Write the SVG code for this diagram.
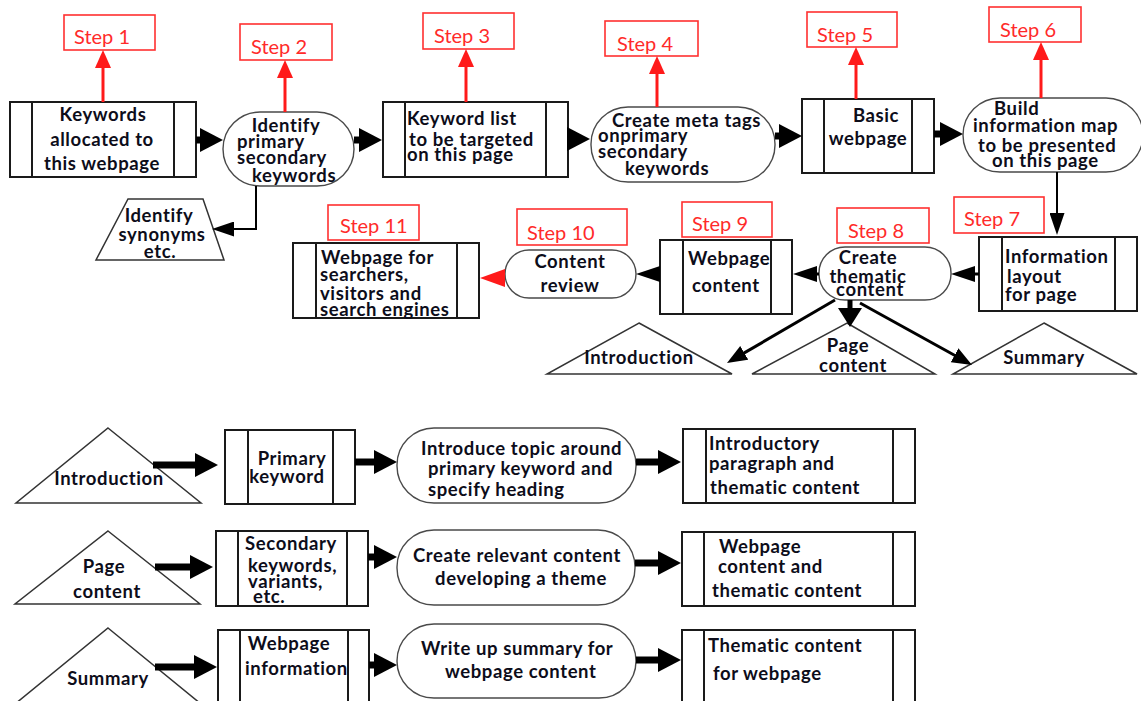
<svg xmlns="http://www.w3.org/2000/svg" width="1141" height="701" viewBox="0 0 1141 701">
<style>
.box{fill:#fff;stroke:#1a1a1a;stroke-width:2}
.dv{stroke:#1a1a1a;stroke-width:2}
.term{fill:#fff;stroke:#4a4a4a;stroke-width:1.4}
.tri{fill:#fff;stroke:#333;stroke-width:1.5}
.sb{fill:#fff;stroke:#ff3030;stroke-width:1.6}
.st{font-family:Lato,"Liberation Sans",sans-serif;font-size:20px;fill:#ff2a2a}
.t{font-family:Lato,"Liberation Sans",sans-serif;font-weight:bold;font-size:18.5px;letter-spacing:0.6px;fill:#0d0d1a}
.c{text-anchor:middle}
.thick{stroke:#000;stroke-width:7;fill:none;marker-end:url(#ahThick)}
.red{stroke:#ff1a1a;stroke-width:3;fill:none;marker-end:url(#ahRed)}
.med{stroke:#000;stroke-width:3;fill:none;marker-end:url(#ahMed)}
.thin{stroke:#000;stroke-width:2;fill:none;marker-end:url(#ahThin)}
.diag{stroke:#000;stroke-width:3;fill:none;marker-end:url(#ahDiag)}
</style>
<defs>
<marker id="ahThick" viewBox="0 0 23 24" markerWidth="23" markerHeight="24" refX="1" refY="12" orient="auto" markerUnits="userSpaceOnUse"><path d="M0,0 L23,12 L0,24 z" fill="#000"/></marker>
<marker id="ahRed" viewBox="0 0 18 16" markerWidth="18" markerHeight="16" refX="1" refY="8" orient="auto" markerUnits="userSpaceOnUse"><path d="M0,0 L18,8 L0,16 z" fill="#ff1a1a"/></marker>
<marker id="ahRedBig" viewBox="0 0 25 18" markerWidth="25" markerHeight="18" refX="1" refY="9" orient="auto" markerUnits="userSpaceOnUse"><path d="M0,0 L25,9 L0,18 z" fill="#ff1a1a"/></marker>
<marker id="ahMed" viewBox="0 0 24 16" markerWidth="24" markerHeight="16" refX="1" refY="8" orient="auto" markerUnits="userSpaceOnUse"><path d="M0,0 L24,8 L0,16 z" fill="#000"/></marker>
<marker id="ahThin" viewBox="0 0 22 15" markerWidth="22" markerHeight="15" refX="1" refY="7.5" orient="auto" markerUnits="userSpaceOnUse"><path d="M0,0 L22,7.5 L0,15 z" fill="#000"/></marker>
<marker id="ahDiag" viewBox="0 0 20 16" markerWidth="20" markerHeight="16" refX="1" refY="8" orient="auto" markerUnits="userSpaceOnUse"><path d="M0,0 L20,8 L0,16 z" fill="#000"/></marker>
<marker id="ahDown" viewBox="0 0 19 24" markerWidth="19" markerHeight="24" refX="1" refY="12" orient="auto" markerUnits="userSpaceOnUse"><path d="M0,0 L19,12 L0,24 z" fill="#000"/></marker>
</defs>
<rect width="1141" height="701" fill="#fff"/>

<!-- Step labels -->
<g id="step1"><rect class="sb" x="64" y="15" width="91" height="35"/><text class="st" x="74" y="44">Step 1</text></g>
<g id="step2"><rect class="sb" x="240" y="24" width="92" height="36"/><text class="st" x="251" y="54">Step 2</text></g>
<g id="step3"><rect class="sb" x="423" y="13" width="91" height="36"/><text class="st" x="434" y="43">Step 3</text></g>
<g id="step4"><rect class="sb" x="605" y="21" width="93" height="35"/><text class="st" x="617" y="51">Step 4</text></g>
<g id="step5"><rect class="sb" x="807" y="12" width="90" height="35"/><text class="st" x="817" y="42">Step 5</text></g>
<g id="step6"><rect class="sb" x="989" y="7" width="92" height="35"/><text class="st" x="1000" y="37">Step 6</text></g>
<g id="step7"><rect class="sb" x="954" y="197" width="90" height="36"/><text class="st" x="964" y="226">Step 7</text></g>
<g id="step8"><rect class="sb" x="837" y="208" width="92" height="35"/><text class="st" x="848" y="238">Step 8</text></g>
<g id="step9"><rect class="sb" x="682" y="202" width="90" height="35"/><text class="st" x="692" y="231">Step 9</text></g>
<g id="step10"><rect class="sb" x="517" y="209" width="110" height="36"/><text class="st" x="527" y="240">Step 10</text></g>
<g id="step11"><rect class="sb" x="328" y="205" width="91" height="35"/><text class="st" x="340" y="233">Step 11</text></g>

<!-- Top row -->
<g id="n1"><rect class="box" x="10" y="102" width="186" height="75"/><line class="dv" x1="32" y1="102" x2="32" y2="177"/><line class="dv" x1="174" y1="102" x2="174" y2="177"/>
<text class="t c" x="103" y="121">Keywords</text><text class="t c" x="102" y="146">allocated to</text><text class="t c" x="102" y="170">this webpage</text></g>
<g id="n2"><rect class="term" x="223" y="112" width="131" height="74" rx="37"/>
<text class="t c" x="286" y="132">Identify</text><text class="t" x="237" y="148">primary</text><text class="t" x="237" y="164">secondary</text><text class="t" x="252" y="182">keywords</text></g>
<g id="n2b"><polygon class="tri" points="128,199 203,199 224,260 96,260"/>
<text class="t c" x="159" y="222">Identify</text><text class="t c" x="162" y="241">synonyms</text><text class="t c" x="160" y="258">etc.</text></g>
<g id="n3"><rect class="box" x="383" y="102" width="185" height="75"/><line class="dv" x1="405" y1="102" x2="405" y2="177"/><line class="dv" x1="546" y1="102" x2="546" y2="177"/>
<text class="t" x="407" y="125">Keyword list</text><text class="t" x="409" y="146">to be  targeted</text><text class="t" x="407" y="161">on this page</text></g>
<g id="n4"><rect class="term" x="591" y="107" width="184" height="75" rx="37"/>
<text class="t" x="612" y="127">Create meta tags</text><text class="t" x="598" y="142">onprimary</text><text class="t" x="598" y="158">secondary</text><text class="t" x="625" y="175">keywords</text></g>
<g id="n5"><rect class="box" x="802" y="99" width="132" height="74"/><line class="dv" x1="824" y1="99" x2="824" y2="173"/><line class="dv" x1="912" y1="99" x2="912" y2="173"/>
<text class="t c" x="876" y="122">Basic</text><text class="t c" x="868" y="145">webpage</text></g>
<g id="n6"><rect class="term" x="963" y="98" width="180" height="74" rx="37"/>
<text class="t" x="994" y="115">Build</text><text class="t" x="973" y="132">information map</text><text class="t" x="978" y="152">to be  presented</text><text class="t" x="992" y="167">on this  page</text></g>

<!-- Middle row -->
<g id="n7"><rect class="box" x="979" y="237" width="158" height="74"/><line class="dv" x1="1002" y1="237" x2="1002" y2="311"/><line class="dv" x1="1115" y1="237" x2="1115" y2="311"/>
<text class="t" x="1005" y="263">Information</text><text class="t" x="1007" y="283">layout</text><text class="t" x="1005" y="301">for  page</text></g>
<g id="n8"><rect class="term" x="819" y="247" width="132" height="53" rx="26"/>
<text class="t c" x="868" y="264">Create</text><text class="t c" x="868" y="283">thematic</text><text class="t c" x="870" y="296">content</text></g>
<g id="n9"><rect class="box" x="660" y="240" width="132" height="74"/><line class="dv" x1="683" y1="240" x2="683" y2="314"/><line class="dv" x1="771" y1="240" x2="771" y2="314"/>
<text class="t" x="688" y="265">Webpage</text><text class="t" x="692" y="292">content</text></g>
<g id="n10"><rect class="term" x="505" y="250" width="131" height="48" rx="24"/>
<text class="t c" x="570" y="268">Content</text><text class="t c" x="570" y="292">review</text></g>
<g id="n11"><rect class="box" x="293" y="243" width="186" height="75"/><line class="dv" x1="316" y1="243" x2="316" y2="318"/><line class="dv" x1="457" y1="243" x2="457" y2="318"/>
<text class="t" x="321" y="264">Webpage for</text><text class="t" x="320" y="281">searchers,</text><text class="t" x="320" y="300">visitors and</text><text class="t" x="320" y="316">search engines</text></g>
<g id="tIntro"><polygon class="tri" points="639,323 732,374 547,374"/><text class="t c" x="639" y="364">Introduction</text></g>
<g id="tPage"><polygon class="tri" points="847,323 935,374 752,374"/><text class="t c" x="848" y="352">Page</text><text class="t c" x="853" y="372">content</text></g>
<g id="tSum"><polygon class="tri" points="1044,323 1137,374 953,374"/><text class="t c" x="1044" y="364">Summary</text></g>

<!-- Bottom section -->
<g id="bIntro"><polygon class="tri" points="108,428 201,503 16,503"/><text class="t c" x="109" y="485">Introduction</text></g>
<g id="bPrim"><rect class="box" x="225" y="430" width="130" height="74"/><line class="dv" x1="248" y1="430" x2="248" y2="504"/><line class="dv" x1="333" y1="430" x2="333" y2="504"/>
<text class="t c" x="292" y="465">Primary</text><text class="t c" x="287" y="483">keyword</text></g>
<g id="bIntroTopic"><rect class="term" x="397" y="428" width="239" height="75" rx="37"/>
<text class="t" x="421" y="455">Introduce topic around</text><text class="t" x="428" y="475">primary keyword and</text><text class="t" x="428" y="496">specify  heading</text></g>
<g id="bIntroOut"><rect class="box" x="683" y="429" width="232" height="74"/><line class="dv" x1="706" y1="429" x2="706" y2="503"/><line class="dv" x1="893" y1="429" x2="893" y2="503"/>
<text class="t" x="709" y="450">Introductory</text><text class="t" x="709" y="470">paragraph and</text><text class="t" x="710" y="494">thematic content</text></g>

<g id="bPage"><polygon class="tri" points="108,531 200,604 15,604"/><text class="t c" x="104" y="573">Page</text><text class="t c" x="107" y="598">content</text></g>
<g id="bSec"><rect class="box" x="216" y="531" width="152" height="75"/><line class="dv" x1="238" y1="531" x2="238" y2="606"/><line class="dv" x1="347" y1="531" x2="347" y2="606"/>
<text class="t c" x="291" y="550">Secondary</text><text class="t" x="248" y="572">keywords,</text><text class="t" x="248" y="588">variants,</text><text class="t" x="253" y="603">etc.</text></g>
<g id="bCreate"><rect class="term" x="397" y="530" width="238" height="75" rx="37"/>
<text class="t c" x="517" y="562">Create relevant content</text><text class="t c" x="521" y="585">developing a theme</text></g>
<g id="bPageOut"><rect class="box" x="682" y="532" width="233" height="74"/><line class="dv" x1="704" y1="532" x2="704" y2="606"/><line class="dv" x1="893" y1="532" x2="893" y2="606"/>
<text class="t" x="719" y="553">Webpage</text><text class="t" x="718" y="573">content and</text><text class="t" x="712" y="597">thematic  content</text></g>

<g id="bSum"><polygon class="tri" points="108,628 201,704 15,704"/><text class="t c" x="108" y="685">Summary</text></g>
<g id="bInfo"><rect class="box" x="218" y="630" width="151" height="80"/><line class="dv" x1="240" y1="630" x2="240" y2="710"/><line class="dv" x1="348" y1="630" x2="348" y2="710"/>
<text class="t c" x="289" y="650">Webpage</text><text class="t" x="245" y="675">information</text></g>
<g id="bWrite"><rect class="term" x="397" y="624" width="239" height="74" rx="37"/>
<text class="t" x="421" y="655">Write up summary for</text><text class="t" x="445" y="678">webpage content</text></g>
<g id="bSumOut"><rect class="box" x="682" y="630" width="233" height="80"/><line class="dv" x1="704" y1="630" x2="704" y2="710"/><line class="dv" x1="893" y1="630" x2="893" y2="710"/>
<text class="t" x="708" y="652">Thematic content</text><text class="t" x="713" y="680">for webpage</text></g>

<!-- Connectors -->
<g id="connectors">
<line class="red" x1="103" y1="102" x2="103" y2="67"/>
<line class="red" x1="285" y1="112" x2="285" y2="77"/>
<line class="red" x1="466" y1="102" x2="466" y2="66"/>
<line class="red" x1="657" y1="107" x2="657" y2="73"/>
<line class="red" x1="856" y1="99" x2="856" y2="64"/>
<line class="red" x1="1041" y1="98" x2="1041" y2="59"/>

<line class="thick" x1="196" y1="140" x2="201" y2="140"/>
<line class="thick" x1="354" y1="140" x2="360" y2="140"/>
<line class="thick" x1="567" y1="139" x2="568" y2="139"/>
<line class="thick" x1="775" y1="136" x2="780" y2="136"/>
<line class="thick" x1="934" y1="134" x2="941" y2="134"/>

<path class="thin" d="M256,186 V229 H233"/>
<path class="thin" d="M1057,172 V214"/>

<line class="med" x1="979" y1="274" x2="974" y2="274"/>
<line class="med" x1="819" y1="274" x2="816" y2="274"/>
<line class="med" x1="660" y1="274" x2="659" y2="274"/>
<line x1="505" y1="278" x2="504" y2="278" stroke="#ff1a1a" stroke-width="2" marker-end="url(#ahRedBig)"/>

<line class="diag" x1="835" y1="300" x2="743.4" y2="353.4"/>
<line class="diag" x1="860" y1="303" x2="955.4" y2="355.8"/>
<line x1="850" y1="300" x2="850" y2="309" stroke="#000" stroke-width="5" marker-end="url(#ahDown)"/>

<line class="thick" x1="153" y1="465" x2="196" y2="465"/>
<line class="thick" x1="355" y1="462" x2="375" y2="462"/>
<line class="thick" x1="636" y1="462" x2="659" y2="462"/>
<line class="thick" x1="155" y1="567" x2="191" y2="567"/>
<line class="thick" x1="368" y1="557" x2="375" y2="557"/>
<line class="thick" x1="635" y1="563" x2="659" y2="563"/>
<line class="thick" x1="155" y1="667" x2="195" y2="667"/>
<line class="thick" x1="369" y1="665" x2="375" y2="665"/>
<line class="thick" x1="636" y1="660" x2="659" y2="660"/>
</g>
</svg>
